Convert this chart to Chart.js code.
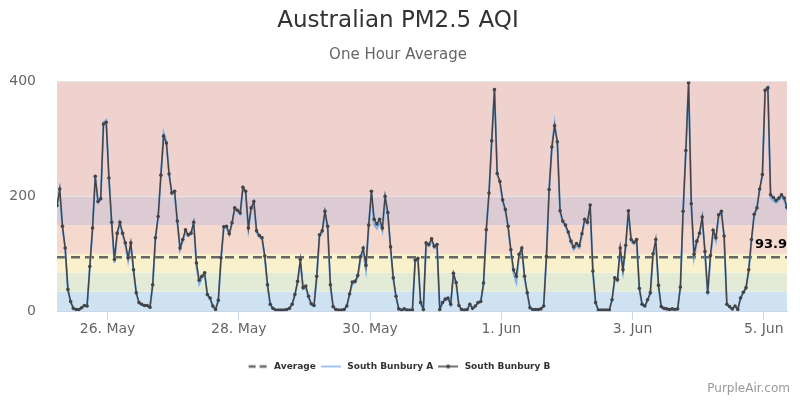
<!DOCTYPE html>
<html><head><meta charset="utf-8">
<script src="https://cdn.jsdelivr.net/npm/chart.js@4.4.0/dist/chart.umd.min.js"></script>
<style>html,body{margin:0;padding:0;background:#fff;}#wrap{width:800px;height:400px;position:relative;}</style>
</head><body><div id="wrap"><canvas id="c" width="800" height="400"></canvas></div>
<script>
// hours relative to 26 May 00:00, one reading per hour
const startHour = -18.5;
const southBunburyB = [
184,213,148,110,38,17,5,3,3,6,
10,9,78,145,235,191,196,326,329,232,
155,90,136,155,136,119,93,119,72,32,
15,12,10,10,7,46,128,165,237,305,
293,239,206,209,157,110,125,142,133,136,
155,84,54,61,67,29,23,9,3,19,
93,147,148,135,154,180,176,171,216,209,
145,180,191,140,132,128,96,46,12,5,
2,2,2,2,3,5,12,29,52,90,
41,44,26,13,10,61,133,140,174,148,
46,8,3,2,2,3,9,30,51,52,
62,95,110,80,150,209,160,152,160,145,
200,172,112,58,26,4,2,4,2,2,
2,89,92,15,3,119,116,126,113,116,
3,15,21,23,12,66,50,10,3,2,
3,12,5,9,15,17,49,142,206,297,
386,240,226,194,177,148,107,72,61,99,
110,61,32,6,3,3,3,4,9,95,
212,286,323,295,175,157,150,138,122,112,
118,114,135,160,155,185,70,15,2,2,
2,2,2,20,58,55,110,72,115,175,
125,120,125,40,12,9,20,32,100,125,
45,8,5,4,3,4,3,4,42,174,
280,398,187,99,122,136,164,104,33,97,
141,128,168,174,131,12,8,4,9,3,
23,33,41,72,125,169,180,213,238,385,
389,203,198,193,197,203,197,181];
const southBunburyA = [
182,210,146,108,35,15,4,3,3,5,
9,8,75,143,233,189,194,329,333,230,
152,84,133,153,133,116,88,116,69,30,
14,11,9,9,6,44,126,163,236,311,
297,237,204,207,155,107,122,139,131,134,
153,78,47,58,64,27,21,8,3,17,
90,145,146,133,152,178,174,169,214,207,
143,177,188,137,129,125,93,43,11,4,
2,2,2,2,3,4,11,27,49,86,
38,40,23,11,9,58,129,137,171,142,
42,7,3,2,2,3,8,28,47,49,
59,90,104,72,146,206,150,144,155,140,
197,168,108,55,24,4,2,3,2,2,
2,86,90,13,3,116,113,123,110,113,
3,14,19,21,11,63,47,9,3,2,
3,11,5,8,14,16,46,139,204,296,
389,238,224,190,174,144,103,66,50,95,
107,58,30,5,3,3,3,4,8,92,
210,285,328,293,172,155,147,135,118,107,
114,110,132,158,152,183,66,13,2,2,
2,2,2,18,55,52,106,69,112,173,
121,117,122,37,11,8,18,30,96,118,
42,7,5,4,3,4,3,4,40,172,
278,399,183,93,119,133,161,100,28,93,
137,122,165,171,128,11,7,4,8,3,
21,31,39,69,122,166,178,211,236,387,
391,198,192,189,193,199,193,176];
const averageValue = 93.9;
const tickHours = [0,48,96,144,192,240];
const tickLabels = ["26. May","28. May","30. May","1. Jun","3. Jun","5. Jun"];
const yTicks = [0,200,400];
const bandLimits = [0,34,67,100,150,200,400];

const FONT = "'DejaVu Sans', sans-serif";
const bandColors = ['#cfe2f1','#e3ebd6','#f9f0cc','#f5d9cc','#dccbd3','#efd2cd'];
const hours = southBunburyB.map((_, i) => startHour + i);
const xMin = hours[0], xMax = hours[hours.length - 1];

function sym(draw){ const c=document.createElement('canvas'); c.width=20; c.height=8; const g=c.getContext('2d'); draw(g); return c; }
const symAvg = sym(g=>{g.strokeStyle='#666';g.lineWidth=2.5;g.setLineDash([7,4]);g.beginPath();g.moveTo(1,4);g.lineTo(19,4);g.stroke();});
const symA = sym(g=>{g.strokeStyle='#7cb5ec';g.lineWidth=1.5;g.beginPath();g.moveTo(0,4);g.lineTo(20,4);g.stroke();});
const symB = sym(g=>{g.strokeStyle='#434348';g.lineWidth=1.5;g.beginPath();g.moveTo(0,4);g.lineTo(20,4);g.stroke();g.fillStyle='#434348';g.beginPath();g.arc(10,4,2,0,Math.PI*2);g.fill();});
const legendSyms = [symAvg, symA, symB];

const bandsPlugin = {
  id:'bands',
  beforeDraw(chart){
    const {ctx, chartArea:a, scales:{y}} = chart;
    ctx.save();
    for (let i=0;i<bandColors.length;i++){
      const top = y.getPixelForValue(bandLimits[i+1]);
      const bot = y.getPixelForValue(bandLimits[i]);
      ctx.fillStyle = bandColors[i];
      ctx.fillRect(a.left, top, a.right-a.left, bot-top);
    }
    ctx.restore();
  },
  afterDraw(chart){
    const {ctx, chartArea:a, scales:{y}} = chart;
    ctx.save();
    ctx.font = "bold 13px " + FONT;
    ctx.fillStyle = '#000';
    ctx.textAlign = 'right';
    ctx.textBaseline = 'bottom';
    ctx.fillText(String(averageValue), a.right, y.getPixelForValue(averageValue) - 6);
    ctx.font = "12px " + FONT;
    ctx.fillStyle = '#999';
    ctx.textBaseline = 'middle';
    ctx.fillText('PurpleAir.com', 790, 389);
    ctx.restore();
  }
};

new Chart(document.getElementById('c'), {
  type:'line',
  data:{datasets:[
    {label:'Average', data:[{x:xMin,y:averageValue},{x:xMax,y:averageValue}], borderColor:'#666', borderWidth:2.5, borderDash:[9,5], pointRadius:0, order:3},
    {label:'South Bunbury A', data:hours.map((h,i)=>({x:h,y:southBunburyA[i]})), borderColor:'#7cb5ec', borderWidth:2, pointRadius:0, order:2},
    {label:'South Bunbury B', data:hours.map((h,i)=>({x:h,y:southBunburyB[i]})), borderColor:'#434348', backgroundColor:'#434348', borderWidth:1.5, pointRadius:1.8, pointBorderWidth:0, order:1}
  ]},
  options:{
    responsive:false, animation:false,
    layout:{padding:{left:9,right:13,top:0,bottom:19}},
    plugins:{
      title:{display:true, text:'Australian PM2.5 AQI', color:'#333', font:{family:FONT,size:23,weight:'normal'}, padding:{top:7,bottom:10}},
      subtitle:{display:true, text:'One Hour Average', color:'#666', font:{family:FONT,size:15,weight:'normal'}, padding:{top:2,bottom:17}},
      legend:{position:'bottom', labels:{usePointStyle:true, pointStyleWidth:24, boxHeight:8, padding:3, color:'#333', font:{family:FONT,size:9,weight:'bold'},
        sort:(a,b)=>a.datasetIndex-b.datasetIndex,
        generateLabels(chart){
          const items = Chart.defaults.plugins.legend.labels.generateLabels(chart);
          items.forEach(it=>{ it.pointStyle = legendSyms[it.datasetIndex]; });
          return items;
        }}},
      tooltip:{enabled:false}
    },
    scales:{
      x:{type:'linear', min:xMin, max:xMax,
        afterBuildTicks(ax){ ax.ticks = tickHours.map(v=>({value:v})); },
        afterFit(ax){ ax.height += 20; ax.paddingLeft = 0; ax.paddingRight = 0; },
        ticks:{autoSkip:false, maxRotation:0, color:'#666', font:{family:FONT,size:14}, padding:1, callback:(v,i)=>tickLabels[i]},
        grid:{drawOnChartArea:false, drawTicks:true, tickLength:9, color:'#ccd6eb'},
        border:{display:true, color:'#ccd6eb'}},
      y:{min:0, max:400,
        afterBuildTicks(ax){ ax.ticks = yTicks.map(v=>({value:v})); },
        afterFit(ax){ ax.width = 48; },
        ticks:{color:'#666', font:{family:FONT,size:14}, padding:21},
        grid:{color:'#e6e6e6', drawTicks:false},
        border:{display:false}}
    }
  },
  plugins:[bandsPlugin]
});
</script></body></html>
